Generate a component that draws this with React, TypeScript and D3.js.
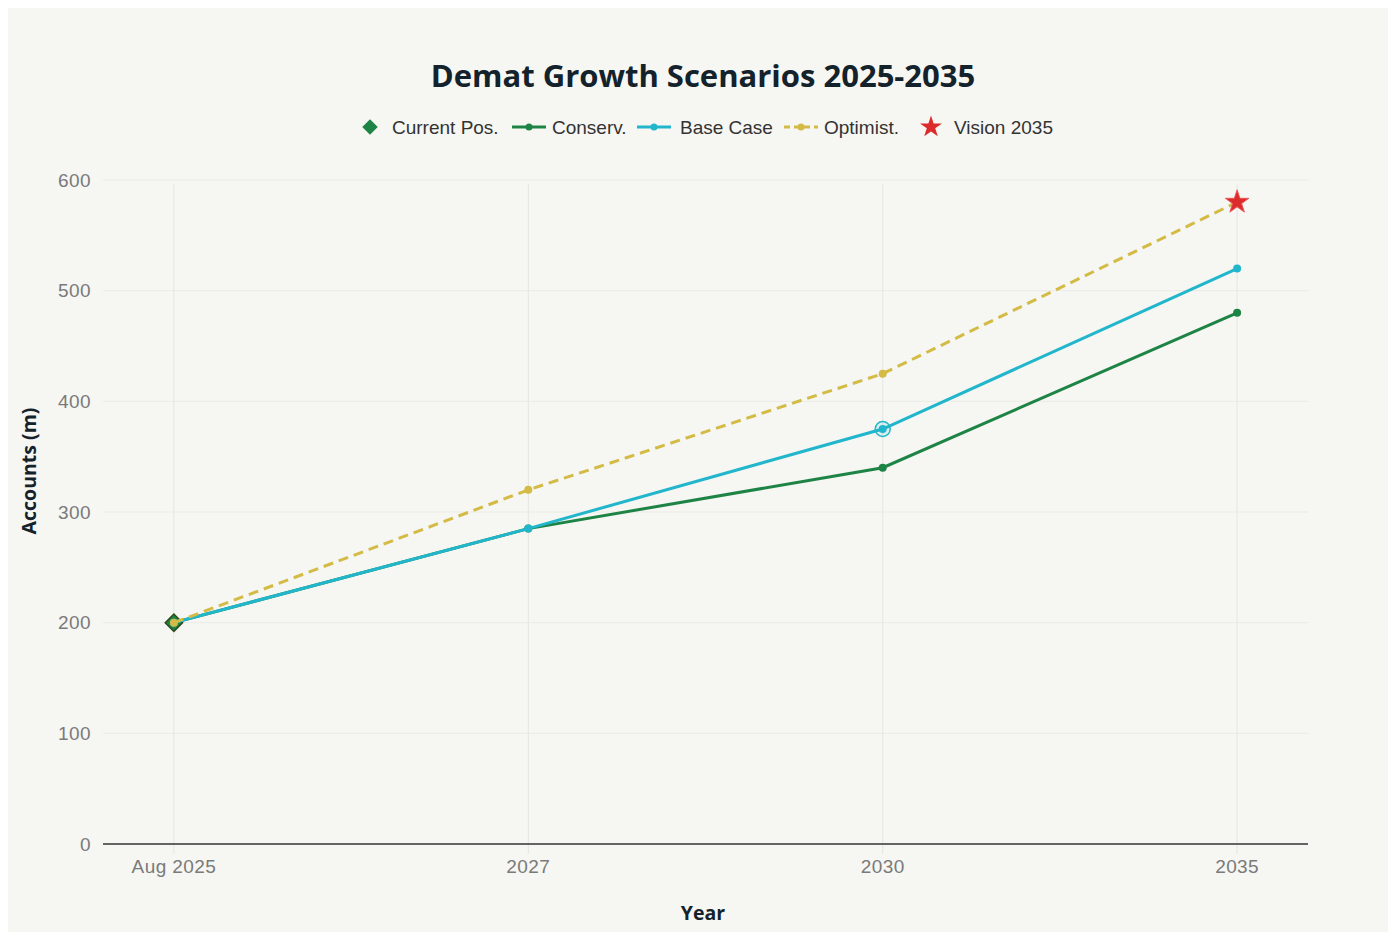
import React, { useEffect, useRef } from "react";
import * as d3 from "d3";

const categories = ["Aug 2025", "2027", "2030", "2035"];
const conservValues = [200, 285, 340, 480];
const baseValues = [200, 285, 375, 520];
const optimistValues = [200, 320, 425, 580];
const currentPos = { cat: "Aug 2025", value: 200 };
const vision = { cat: "2035", value: 580 };
const highlight = { cat: "2030", value: 375 };
const yTicks = [0, 100, 200, 300, 400, 500, 600];

const W = 1388;
const H = 924;
const BG = "#f6f6f2";
const GREEN = "#1e8446";
const CYAN = "#21b6cb";
const GOLD = "#d3bb45";
const RED = "#db2b2b";
const TEXT_FONT = "'Liberation Sans', Arial, sans-serif";
const TITLE_FONT = "'Open Sans', Lato, sans-serif";

export default function App() {
  const ref = useRef<SVGSVGElement>(null);

  useEffect(() => {
    const svg = d3.select(ref.current);
    svg.selectAll("*").remove();

    const x = d3.scalePoint<string>().domain(categories).range([95, 1300]).padding(0.2);
    const y = d3.scaleLinear().domain([0, 600]).range([836, 172]);

    svg.append("rect").attr("width", W).attr("height", H).attr("fill", BG);

    // grid
    const grid = svg.append("g");
    grid.selectAll("line.h")
      .data(yTicks.slice(1))
      .join("line")
      .attr("x1", 95).attr("x2", 1300)
      .attr("y1", d => y(d)).attr("y2", d => y(d))
      .attr("stroke", "#ebebe6").attr("stroke-width", 1);
    grid.selectAll("line.v")
      .data(categories)
      .join("line")
      .attr("x1", d => x(d)!).attr("x2", d => x(d)!)
      .attr("y1", 176).attr("y2", 846)
      .attr("stroke", "#e6e6e1").attr("stroke-width", 1);

    // axis line
    svg.append("line")
      .attr("x1", 95).attr("x2", 1300)
      .attr("y1", y(0)).attr("y2", y(0))
      .attr("stroke", "#333").attr("stroke-width", 1.5);

    // tick labels
    svg.append("g").selectAll("text")
      .data(yTicks)
      .join("text")
      .attr("x", 83).attr("y", d => y(d)).attr("dy", "0.35em")
      .attr("text-anchor", "end")
      .attr("font-family", TEXT_FONT).attr("font-size", 19).attr("letter-spacing", 0.4).attr("fill", "#7a7a7a")
      .text(d => d);
    svg.append("g").selectAll("text")
      .data(categories)
      .join("text")
      .attr("x", d => x(d)!).attr("y", 865)
      .attr("text-anchor", "middle")
      .attr("font-family", TEXT_FONT).attr("font-size", 19).attr("letter-spacing", 0.4).attr("fill", "#7a7a7a")
      .text(d => d);

    // axis titles
    svg.append("text")
      .attr("transform", `translate(28,${y(300) - 41}) rotate(-90)`)
      .attr("text-anchor", "middle")
      .attr("font-family", TITLE_FONT).attr("font-weight", 700).attr("font-size", 19.5).attr("fill", "#13222b")
      .text("Accounts (m)");
    svg.append("text")
      .attr("x", 695).attr("y", 912)
      .attr("text-anchor", "middle")
      .attr("font-family", TITLE_FONT).attr("font-weight", 700).attr("font-size", 19.5).attr("fill", "#13222b")
      .text("Year");

    // title
    svg.append("text")
      .attr("x", 695).attr("y", 79)
      .attr("text-anchor", "middle")
      .attr("font-family", TITLE_FONT).attr("font-weight", 700).attr("font-size", 31).attr("fill", "#13222b")
      .text("Demat Growth Scenarios 2025-2035");

    const line = d3.line<number>()
      .x((_, i) => x(categories[i])!)
      .y(d => y(d));

    const plot = svg.append("g");

    // current position diamond
    plot.append("path")
      .attr("d", d3.symbol(d3.symbolSquare, 150)())
      .attr("transform", `translate(${x(currentPos.cat)},${y(currentPos.value)}) rotate(45)`)
      .attr("fill", GREEN).attr("stroke", "#2d4a1c").attr("stroke-width", 1.5);

    const series = [
      { values: conservValues, color: GREEN, dash: null as string | null },
      { values: baseValues, color: CYAN, dash: null as string | null },
      { values: optimistValues, color: GOLD, dash: "10,6" },
    ];
    series.forEach(s => {
      plot.append("path")
        .attr("d", line(s.values))
        .attr("fill", "none").attr("stroke", s.color).attr("stroke-width", 3)
        .attr("stroke-dasharray", s.dash);
      plot.append("g").selectAll("circle")
        .data(s.values)
        .join("circle")
        .attr("cx", (_, i) => x(categories[i])!).attr("cy", d => y(d))
        .attr("r", 4).attr("fill", s.color);
      if (s.color === CYAN) {
        plot.append("circle")
          .attr("cx", x(highlight.cat)!).attr("cy", y(highlight.value))
          .attr("r", 7.5).attr("fill", "rgba(33,182,203,0.12)")
          .attr("stroke", CYAN).attr("stroke-width", 1.5);
      }
    });

    // vision star
    plot.append("path")
      .attr("d", d3.symbol(d3.symbolStar, 170)())
      .attr("transform", `translate(${x(vision.cat)},${y(vision.value)})`)
      .attr("fill", RED).attr("stroke", "#ee5555").attr("stroke-width", 1);

    // legend
    const lg = svg.append("g").attr("font-family", TEXT_FONT).attr("font-size", 19).attr("fill", "#333");
    const ly = 119;
    lg.append("path")
      .attr("d", d3.symbol(d3.symbolSquare, 120)())
      .attr("transform", `translate(362,${ly}) rotate(45)`).attr("fill", GREEN);
    lg.append("text").attr("x", 384).attr("y", ly).attr("dy", "0.35em").text("Current Pos.");
    const lineItems = [
      { x0: 504, color: GREEN, dash: null as string | null, label: "Conserv.", tx: 544 },
      { x0: 629, color: CYAN, dash: null as string | null, label: "Base Case", tx: 672 },
      { x0: 776, color: GOLD, dash: "6,4", label: "Optimist.", tx: 816 },
    ];
    lineItems.forEach(it => {
      lg.append("line")
        .attr("x1", it.x0).attr("x2", it.x0 + 34).attr("y1", ly).attr("y2", ly)
        .attr("stroke", it.color).attr("stroke-width", 3).attr("stroke-dasharray", it.dash);
      lg.append("circle").attr("cx", it.x0 + 17).attr("cy", ly).attr("r", 3.5).attr("fill", it.color);
      lg.append("text").attr("x", it.tx).attr("y", ly).attr("dy", "0.35em").text(it.label);
    });
    lg.append("path")
      .attr("d", d3.symbol(d3.symbolStar, 150)())
      .attr("transform", `translate(923,${ly})`).attr("fill", RED);
    lg.append("text").attr("x", 946).attr("y", ly).attr("dy", "0.35em").text("Vision 2035");
  }, []);

  return <svg ref={ref} width={W} height={H} style={{ display: "block" }} />;
}
